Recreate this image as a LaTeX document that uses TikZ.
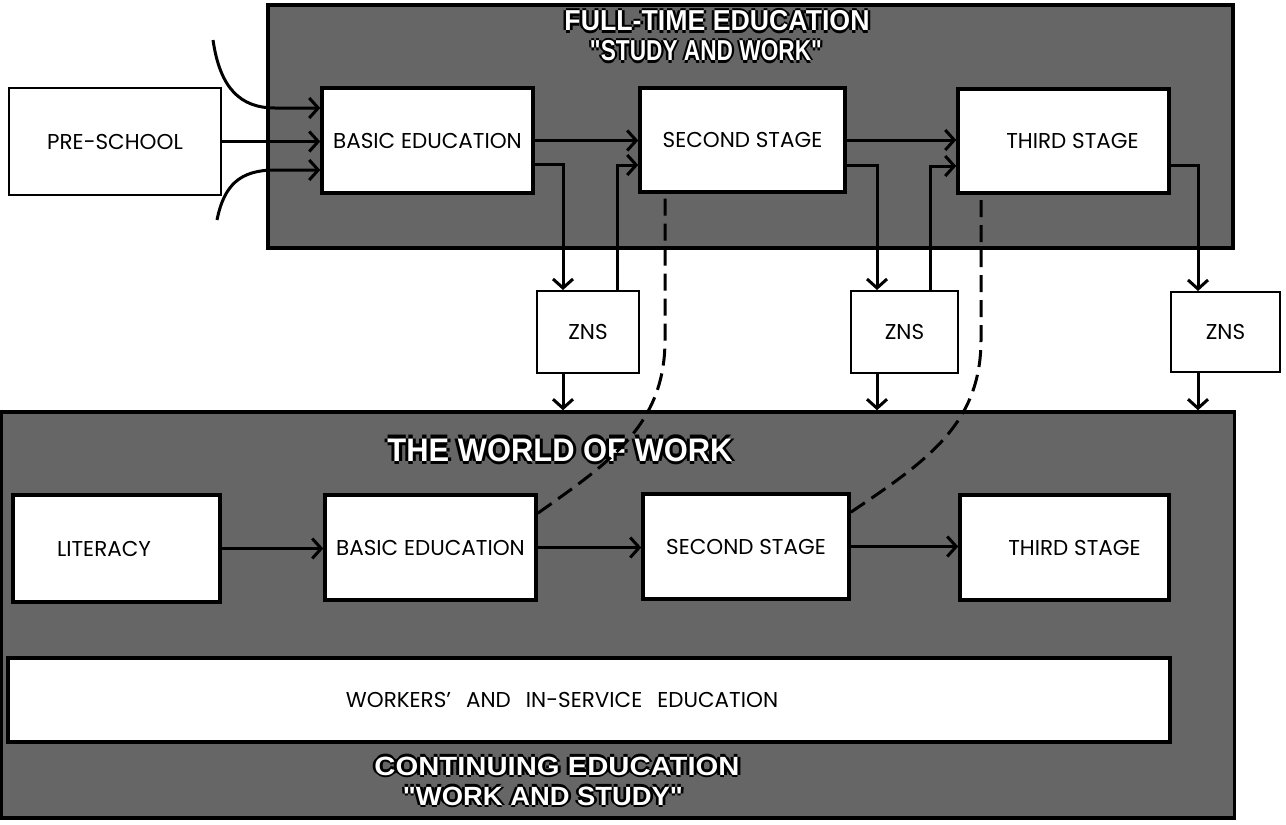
\documentclass[tikz,border=0pt]{standalone}
\usepackage{fontspec}
\setmainfont{Poppins}
\newfontfamily\titlefont{Liberation Sans}
\usepackage{graphicx}
\usetikzlibrary{arrows.meta,calc}
\newcommand\lblfont{\fontsize{21.5}{24}\selectfont}
\newcommand\outtext[1]{\leavevmode
  \rlap{\hspace{-1pt}\textcolor{black}{#1}}%
  \rlap{\hspace{1pt}\textcolor{black}{#1}}%
  \rlap{\raisebox{1pt}{\textcolor{black}{#1}}}%
  \rlap{\raisebox{-1pt}{\textcolor{black}{#1}}}%
  \textcolor{white}{#1}}
\newcommand\ttl[3]{\resizebox{#1}{#2}{\titlefont\bfseries\outtext{#3}}}
\newcommand\ws{\hspace{15pt}}
\newcommand\pad[1]{\rule{#1}{0pt}}
\tikzset{
  panel/.style={draw=black, line width=3.5pt, fill=black!60, inner sep=0pt},
  stagebox/.style={draw=black, line width=3.5pt, fill=white, inner sep=0pt, font=\lblfont},
  plainbox/.style={draw=black, line width=2pt, fill=white, inner sep=0pt, font=\lblfont},
  titletext/.style={inner sep=0pt},
  conn/.style={line width=3pt, draw=black},
  arr/.style={conn, -{Straight Barb[length=9pt,width=20pt]}},
  dashline/.style={line width=3pt, draw=black, dash pattern=on 17pt off 8pt},
}
\begin{document}
\begin{tikzpicture}[x=1pt,y=-1pt]
\useasboundingbox (0,0) rectangle (1286,825);
\fill[white] (0,0) rectangle (1286,825);
% panels
\node[panel, minimum width=965pt, minimum height=243pt] (top) at (750.5,126.5) {};
\node[panel, minimum width=1233pt, minimum height=406pt] (low) at (618,615) {};
% titles
\node[titletext] (t1) at (717,21) {\ttl{305pt}{23pt}{FULL-TIME EDUCATION}};
\node[titletext] (t2) at (706,51) {\ttl{232pt}{23pt}{"STUDY AND WORK"}};
\node[titletext] (t3) at (560,450) {\ttl{345pt}{26pt}{THE WORLD OF WORK}};
\node[titletext] (t4) at (557,766) {\ttl{365pt}{21pt}{CONTINUING EDUCATION}};
\node[titletext] (t5) at (543,796) {\ttl{280pt}{21pt}{"WORK AND STUDY"}};
% top row
\node[plainbox, minimum width=212pt, minimum height=107pt] (ps) at (115,141.5) {PRE-SCHOOL};
\node[stagebox, minimum width=211pt, minimum height=105pt] (be1) at (427.5,140.5) {BASIC EDUCATION};
\node[stagebox, minimum width=205pt, minimum height=104pt] (ss1) at (742.5,140) {SECOND STAGE};
\node[stagebox, minimum width=211pt, minimum height=104pt] (ts1) at (1063.5,141) {\pad{18pt}THIRD STAGE};
% ZNS
\node[plainbox, minimum width=102pt, minimum height=82pt] (z1) at (588,332) {ZNS};
\node[plainbox, minimum width=107pt, minimum height=82pt] (z2) at (904.5,332) {ZNS};
\node[plainbox, minimum width=109pt, minimum height=80pt] (z3) at (1225.5,332) {ZNS};
% lower row
\node[stagebox, minimum width=207pt, minimum height=107pt] (lit) at (116.5,548.5) {LITERACY\pad{25pt}};
\node[stagebox, minimum width=211pt, minimum height=105pt] (be2) at (430.5,547.5) {BASIC EDUCATION};
\node[stagebox, minimum width=206pt, minimum height=105pt] (ss2) at (746,546.5) {SECOND STAGE};
\node[stagebox, minimum width=209pt, minimum height=105pt] (ts2) at (1064.5,547.5) {\pad{20pt}THIRD STAGE};
\node[stagebox, minimum width=1162pt, minimum height=84pt] (wk) at (589,700) {WORKERS'\ws AND\ws IN-SERVICE\ws EDUCATION\pad{54pt}};
% inputs to basic education
\coordinate (in1) at (213,40);
\coordinate (in2) at (217,220);
\draw[arr] (in1) .. controls (220,88) and (240,108) .. (275,108) -- (be1.west |- 0,108);
\draw[arr] (in2) .. controls (224,185) and (240,170) .. (275,170) -- (be1.west |- 0,170);
\draw[arr] (ps.east) -- (ps.east -| be1.west);
% top row flow
\draw[arr] (be1.east) -- (be1.east -| ss1.west);
\draw[arr] (ss1.east) -- (ss1.east -| ts1.west);
% ZNS links
\draw[arr] ([yshift=-24pt]be1.east) -| ([xshift=-25pt]z1.north);
\draw[arr] ([xshift=29pt]z1.north) |- ([yshift=-25pt]ss1.west);
\draw[arr] ([xshift=-25pt]z1.south) -- ([xshift=-25pt]z1.south |- low.north);
\draw[arr] ([yshift=-25pt]ss1.east) -| ([xshift=-27.5pt]z2.north);
\draw[arr] ([xshift=25.5pt]z2.north) |- ([yshift=-25pt]ts1.west);
\draw[arr] ([xshift=-27.5pt]z2.south) -- ([xshift=-27.5pt]z2.south |- low.north);
\draw[arr] ([yshift=-24pt]ts1.east) -| ([xshift=-27.5pt]z3.north);
\draw[arr] ([xshift=-27.5pt]z3.south) -- ([xshift=-27.5pt]z3.south |- low.north);
% lower row flow
\draw[arr] (lit.east) -- (lit.east -| be2.west);
\draw[arr] (be2.east) -- (be2.east -| ss2.west);
\draw[arr] (ss2.east) -- (ss2.east -| ts2.west);
% dashed returns
\draw[dashline] ([yshift=-20pt]be2.north east) .. controls (610,462) and (665,425) .. (665,340) -- ([xshift=-77.5pt]ss1.south);
\draw[dashline] ([yshift=-20pt]ss2.north east) .. controls (925,462) and (981,425) .. (981,340) -- ([xshift=-82.5pt]ts1.south);
\end{tikzpicture}
\end{document}
